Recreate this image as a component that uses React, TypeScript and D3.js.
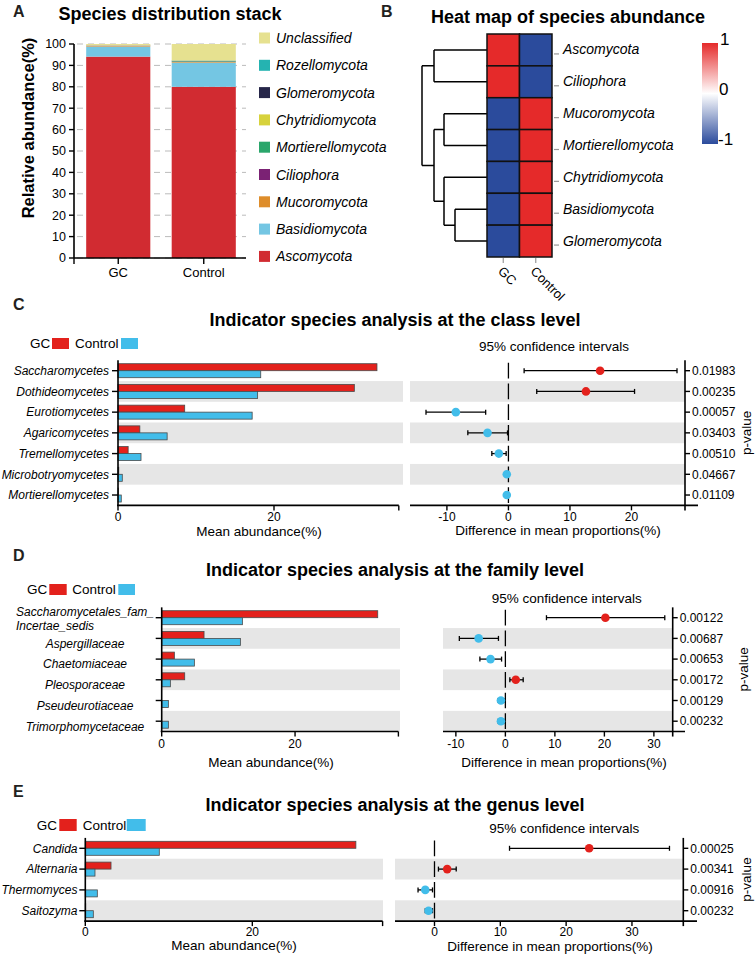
import * as d3 from 'd3'
import React from 'react'

const FONT = 'Liberation Sans, Arial, Helvetica, sans-serif'
const RED = '#e3211c'
const BLUE = '#42bdea'

// ---- panel A: stacked composition ----
const groups = ['GC', 'Control']
const phyla = ['Ascomycota', 'Basidiomycota', 'Mucoromycota', 'Ciliophora', 'Mortierellomycota', 'Chytridiomycota', 'Glomeromycota', 'Rozellomycota', 'Unclassified']
const phylaColors = ['#d12b31', '#74c6e3', '#de8d2b', '#7b2274', '#2aa66b', '#d7d23c', '#262649', '#25b3b1', '#e6e190']
const gcStack = [94.1, 4.7, 0.25, 0.15, 0.05, 0.03, 0.02, 0.02, 0.68]
const controlStack = [80.0, 11.3, 0.3, 0.2, 0.35, 0.1, 0.05, 0.05, 7.65]
const stackTicks = d3.range(0, 101, 10)

// ---- panel B: heatmap ----
const heatRows = ['Ascomycota', 'Ciliophora', 'Mucoromycota', 'Mortierellomycota', 'Chytridiomycota', 'Basidiomycota', 'Glomeromycota']
const heatGC = [1, 1, -1, -1, -1, -1, -1]
const heatControl = [-1, -1, 1, 1, 1, 1, 1]
// merge heights of the row dendrogram
const dendro = {
  h: 65,
  children: [
    { h: 53, children: [{ name: 'Ascomycota' }, { name: 'Ciliophora' }] },
    {
      h: 53,
      children: [
        { h: 43, children: [{ name: 'Mucoromycota' }, { name: 'Mortierellomycota' }] },
        { h: 43, children: [{ name: 'Chytridiomycota' }, { h: 32, children: [{ name: 'Basidiomycota' }, { name: 'Glomeromycota' }] }] },
      ],
    },
  ],
}

// ---- panel C: class level ----
const classNames = ['Saccharomycetes', 'Dothideomycetes', 'Eurotiomycetes', 'Agaricomycetes', 'Tremellomycetes', 'Microbotryomycetes', 'Mortierellomycetes']
const classGC = [33.2, 30.3, 8.55, 2.8, 1.3, 0.1, 0.05]
const classControl = [18.3, 17.9, 17.2, 6.3, 2.95, 0.55, 0.42]
const classDiff = [14.9, 12.6, -8.55, -3.4, -1.56, -0.27, -0.27]
const classLow = [2.55, 4.6, -13.4, -6.6, -2.7, -0.5, -0.45]
const classHigh = [27.4, 20.5, -3.7, -0.15, -0.37, -0.05, -0.1]
const classP = ['0.01983', '0.00235', '0.00057', '0.03403', '0.00510', '0.04667', '0.01109']

// ---- panel D: family level ----
const familyNames = ['Saccharomycetales_fam_Incertae_sedis', 'Aspergillaceae', 'Chaetomiaceae', 'Pleosporaceae', 'Pseudeurotiaceae', 'Trimorphomycetaceae']
const familyGC = [32.4, 6.35, 1.9, 3.45, 0, 0]
const familyControl = [12.1, 11.8, 4.9, 1.3, 1.0, 1.0]
const familyDiff = [20.2, -5.4, -3.0, 2.1, -0.9, -0.9]
const familyLow = [8.3, -9.3, -5.15, 0.9, -1.45, -1.45]
const familyHigh = [32.2, -1.4, -0.77, 3.6, -0.3, -0.3]
const familyP = ['0.00122', '0.00687', '0.00653', '0.00172', '0.00129', '0.00232']

// ---- panel E: genus level ----
const genusNames = ['Candida', 'Alternaria', 'Thermomyces', 'Saitozyma']
const genusGC = [32.4, 3.08, 0, 0.05]
const genusControl = [8.86, 1.16, 1.44, 0.96]
const genusDiff = [23.5, 1.93, -1.4, -0.9]
const genusLow = [11.4, 0.6, -2.5, -1.4]
const genusHigh = [35.7, 3.3, -0.3, -0.3]
const genusP = ['0.00025', '0.00341', '0.00916', '0.00232']

const StackPanel = () => {
  const y = d3.scaleLinear().domain([0, 100]).range([258, 44])
  const x = d3.scaleBand().domain(groups).range([75.5, 246.5]).paddingInner(0.25).paddingOuter(0.125)
  const rows = groups.map((g, gi) => {
    const o: any = { group: g }
    phyla.forEach((p, i) => (o[p] = (gi === 0 ? gcStack : controlStack)[i]))
    return o
  })
  const series = d3.stack().keys(phyla)(rows)
  return (
    <g>
      <text x={13} y={17} fontSize={16} fontWeight='bold' fill='#231f20'>A</text>
      <text x={170} y={20} fontSize={18} fontWeight='bold' textAnchor='middle'>Species distribution stack</text>
      {stackTicks.map((t) => (
        <line key={'g' + t} x1={77} x2={246} y1={y(t)} y2={y(t)} stroke='#bbb' strokeWidth={1} strokeDasharray='6,5' />
      ))}
      {series.map((s, i) => (
        <g key={s.key} fill={phylaColors[i]}>
          {s.map((d: any) => (
            <rect key={d.data.group} x={x(d.data.group)} width={x.bandwidth()} y={y(d[1])} height={Math.max(0, y(d[0]) - y(d[1]))} />
          ))}
        </g>
      ))}
      <line x1={74} x2={74} y1={44} y2={258} stroke='#000' strokeWidth={1.6} />
      <line x1={74} x2={246} y1={258} y2={258} stroke='#000' strokeWidth={1.6} />
      <line x1={74} x2={74} y1={258} y2={264} stroke='#000' strokeWidth={1.4} />
      {stackTicks.map((t) => (
        <g key={'t' + t}>
          <line x1={69} x2={74} y1={y(t)} y2={y(t)} stroke='#000' strokeWidth={1.4} />
          <text x={66} y={y(t) + 4.3} fontSize={12.5} textAnchor='end'>{t}</text>
        </g>
      ))}
      {groups.map((g) => (
        <g key={g}>
          <line x1={x(g)! + x.bandwidth() / 2} x2={x(g)! + x.bandwidth() / 2} y1={258} y2={264} stroke='#000' strokeWidth={1.4} />
          <text x={x(g)! + x.bandwidth() / 2} y={277} fontSize={13} textAnchor='middle'>{g}</text>
        </g>
      ))}
      <text transform='translate(34,128) rotate(-90)' fontSize={16.5} fontWeight='bold' textAnchor='middle'>Relative abundance(%)</text>
      {phyla.slice().reverse().map((p, i) => (
        <g key={p} transform={`translate(259,${38 + i * 27.3})`}>
          <rect x={0} y={-5.5} width={11} height={11} fill={phylaColors[phyla.length - 1 - i]} />
          <text x={17} y={5} fontSize={14} fontStyle='italic'>{p}</text>
        </g>
      ))}
    </g>
  )
}

const HeatPanel = () => {
  const x0 = 487
  const cw = 32.5
  const y0 = 34
  const ch = (257 - 34) / heatRows.length
  const color = d3.scaleLinear<string>().domain([-1, 0, 1]).range(['#2b4b9c', '#ffffff', '#e52a2a'])
  const hx = d3.scaleLinear().domain([0, 65]).range([x0, 422])
  const root = d3.hierarchy<any>(dendro)
  const pos = new Map<any, { x: number; y: number }>()
  root.eachAfter((n) => {
    const px = hx(n.data.h ?? 0)
    if (!n.children) {
      const i = heatRows.indexOf(n.data.name)
      pos.set(n, { x: px, y: y0 + (i + 0.5) * ch })
    } else {
      const ys = n.children.map((c) => pos.get(c)!.y)
      pos.set(n, { x: px, y: d3.mean(ys)! })
    }
  })
  const segs: string[] = []
  root.each((n) => {
    if (!n.children) return
    const p = pos.get(n)!
    const ys = n.children.map((c) => pos.get(c)!.y)
    segs.push(`M${p.x},${d3.min(ys)}V${d3.max(ys)}`)
    n.children.forEach((c) => {
      const q = pos.get(c)!
      segs.push(`M${p.x},${q.y}H${q.x}`)
    })
  })
  const cols = [heatGC, heatControl]
  return (
    <g>
      <text x={381} y={17} fontSize={16} fontWeight='bold' fill='#231f20'>B</text>
      <text x={568} y={22.5} fontSize={18} fontWeight='bold' textAnchor='middle'>Heat map of species abundance</text>
      <path d={segs.join('')} fill='none' stroke='#000' strokeWidth={1.5} />
      {cols.map((vals, ci) =>
        vals.map((v, ri) => (
          <rect key={ci + '-' + ri} x={x0 + ci * cw} y={y0 + ri * ch} width={cw} height={ch} fill={color(v)} stroke='#111' strokeWidth={1.5} />
        ))
      )}
      {heatRows.map((r, i) => (
        <g key={r}>
          <line x1={554} x2={559} y1={y0 + (i + 0.5) * ch + 4} y2={y0 + (i + 0.5) * ch + 4} stroke='#999' strokeWidth={1.2} />
          <text x={563} y={y0 + (i + 0.5) * ch + 4.5} fontSize={14} fontStyle='italic'>{r}</text>
        </g>
      ))}
      {groups.map((g, ci) => {
        const cx = x0 + (ci + 0.5) * cw
        return (
          <g key={g}>
            <line x1={cx} x2={cx} y1={258} y2={263} stroke='#999' strokeWidth={1.2} />
            <text transform={`translate(${cx - 6},272) rotate(45)`} fontSize={13}>{g}</text>
          </g>
        )
      })}
      <defs>
        <linearGradient id='hmgrad' x1='0' x2='0' y1='0' y2='1'>
          <stop offset='0%' stopColor={color(1)} />
          <stop offset='50%' stopColor={color(0)} />
          <stop offset='100%' stopColor={color(-1)} />
        </linearGradient>
      </defs>
      <rect x={702} y={43} width={16} height={101} fill='url(#hmgrad)' />
      <text x={720} y={45} fontSize={17}>1</text>
      <text x={719} y={95} fontSize={17}>0</text>
      <text x={718} y={145} fontSize={17}>-1</text>
    </g>
  )
}

interface LevelCfg {
  letter: string
  letterY: number
  title: string
  titleY: number
  legY: number
  legH: number
  gcX: number
  gcRect: [number, number]
  ctrlX: number
  ctrlRect: [number, number]
  names: string[]
  gc: number[]
  ctrl: number[]
  diff: number[]
  low: number[]
  high: number[]
  p: string[]
  y0: number
  step: number
  leftX: number
  leftX1: number
  leftMax: number
  leftTicks: number[]
  leftBandX1: number
  labelX: number
  labelAnchor: 'end' | 'middle'
  labelDy: number
  labelSize: number
  rightX0: number
  rightX1: number
  rightDomain: [number, number]
  rightTicks: number[]
  rightAxisEnd: number
  ciX: number
  ciY: number
  pLabelX: number
  tickLabelDy: number
  leftTitleX: number
  leftTitleDy: number
  rightTitleX: number
  rightTitleDy: number
}

const Level: React.FC<{ cfg: LevelCfg }> = ({ cfg }) => {
  const n = cfg.names.length
  const rowY = (i: number) => cfg.y0 + i * cfg.step
  const top = cfg.y0 - cfg.step / 2
  const bottom = rowY(n - 1) + cfg.step / 2
  const xl = d3.scaleLinear().domain([0, cfg.leftMax]).range([cfg.leftX, cfg.leftX1])
  const xr = d3.scaleLinear().domain(cfg.rightDomain).range([cfg.rightX0, cfg.rightX1])
  const bh = 7
  const barStroke = '#4a4a4a'
  return (
    <g>
      <text x={13} y={cfg.letterY} fontSize={16} fontWeight='bold' fill='#231f20'>{cfg.letter}</text>
      <text x={395} y={cfg.titleY} fontSize={18} fontWeight='bold' textAnchor='middle'>{cfg.title}</text>
      <text x={cfg.gcX} y={cfg.legY + 4.8} fontSize={13.5}>GC</text>
      <rect x={cfg.gcRect[0]} y={cfg.legY - cfg.legH / 2} width={cfg.gcRect[1] - cfg.gcRect[0]} height={cfg.legH} fill={RED} />
      <text x={cfg.ctrlX} y={cfg.legY + 4.8} fontSize={13.5}>Control</text>
      <rect x={cfg.ctrlRect[0]} y={cfg.legY - cfg.legH / 2} width={cfg.ctrlRect[1] - cfg.ctrlRect[0]} height={cfg.legH} fill={BLUE} />

      {/* bands */}
      {cfg.names.map((nm, i) =>
        i % 2 === 1 ? (
          <g key={'b' + i} fill='#e6e6e6'>
            <rect x={cfg.leftX} y={rowY(i) - cfg.step / 2} width={cfg.leftBandX1 - cfg.leftX} height={cfg.step} />
            <rect x={cfg.rightX0} y={rowY(i) - cfg.step / 2} width={cfg.rightX1 - cfg.rightX0} height={cfg.step} />
          </g>
        ) : null
      )}

      {/* left: mean abundance bars */}
      {cfg.names.map((nm, i) => (
        <g key={'bar' + i}>
          {cfg.gc[i] > 0 && <rect x={xl(0)} y={rowY(i) - bh} width={xl(cfg.gc[i]) - xl(0)} height={bh} fill={RED} stroke={barStroke} strokeWidth={0.8} />}
          {cfg.ctrl[i] > 0 && <rect x={xl(0)} y={rowY(i)} width={xl(cfg.ctrl[i]) - xl(0)} height={bh} fill={BLUE} stroke={barStroke} strokeWidth={0.8} />}
        </g>
      ))}
      <line x1={cfg.leftX} x2={cfg.leftX} y1={top} y2={bottom} stroke='#000' strokeWidth={1.6} />
      <line x1={cfg.leftX - 1} x2={cfg.leftX1} y1={bottom} y2={bottom} stroke='#000' strokeWidth={1.6} />
      {cfg.names.map((nm, i) => {
        const parts = nm.includes('_fam_') ? [nm.slice(0, nm.indexOf('_fam_') + 5), nm.slice(nm.indexOf('_fam_') + 5)] : [nm]
        return (
          <g key={'lab' + i}>
            <line x1={cfg.leftX - 6} x2={cfg.leftX} y1={rowY(i)} y2={rowY(i)} stroke='#000' strokeWidth={1.4} />
            {parts.length === 1 ? (
              <text x={cfg.labelX} y={rowY(i) + 4.3 + cfg.labelDy} fontSize={cfg.labelSize} fontStyle='italic' textAnchor={cfg.labelAnchor}>{nm}</text>
            ) : (
              <g fontSize={cfg.labelSize} fontStyle='italic'>
                <text x={cfg.labelX} y={rowY(i) - 2} textAnchor='middle'>{parts[0]}</text>
                <text x={16} y={rowY(i) + 12.5}>{parts[1]}</text>
              </g>
            )}
          </g>
        )
      })}
      {[...cfg.leftTicks, cfg.leftMax].map((t) => (
        <line key={'lt' + t} x1={xl(t)} x2={xl(t)} y1={bottom} y2={bottom + 5} stroke='#000' strokeWidth={1.4} />
      ))}
      {cfg.leftTicks.map((t) => (
        <text key={'ltl' + t} x={xl(t)} y={bottom + cfg.tickLabelDy} fontSize={12} textAnchor='middle'>{t}</text>
      ))}
      <text x={cfg.leftTitleX} y={bottom + cfg.leftTitleDy} fontSize={13.5} textAnchor='middle'>Mean abundance(%)</text>

      {/* right: difference with confidence intervals */}
      <line x1={xr(0)} x2={xr(0)} y1={top + 2.5} y2={bottom} stroke='#000' strokeWidth={1.3} strokeDasharray={`${cfg.step - 5},5`} />
      {cfg.names.map((nm, i) => (
        <g key={'ci' + i}>
          <line x1={xr(cfg.low[i])} x2={xr(cfg.high[i])} y1={rowY(i)} y2={rowY(i)} stroke='#000' strokeWidth={1.3} />
          <line x1={xr(cfg.low[i])} x2={xr(cfg.low[i])} y1={rowY(i) - 2.5} y2={rowY(i) + 2.5} stroke='#000' strokeWidth={1.3} />
          <line x1={xr(cfg.high[i])} x2={xr(cfg.high[i])} y1={rowY(i) - 2.5} y2={rowY(i) + 2.5} stroke='#000' strokeWidth={1.3} />
          <circle cx={xr(cfg.diff[i])} cy={rowY(i)} r={4.3} fill={cfg.diff[i] > 0 ? RED : BLUE} />
        </g>
      ))}
      <line x1={cfg.rightX1} x2={cfg.rightX1} y1={top} y2={bottom + 5} stroke='#000' strokeWidth={1.6} />
      <line x1={cfg.rightX0} x2={cfg.rightAxisEnd} y1={bottom} y2={bottom} stroke='#000' strokeWidth={1.6} />
      {cfg.p.map((p, i) => (
        <g key={'p' + i}>
          <line x1={cfg.rightX1} x2={cfg.rightX1 + 5} y1={rowY(i)} y2={rowY(i)} stroke='#000' strokeWidth={1.4} />
          <text x={cfg.rightX1 + 7} y={rowY(i) + 4.2} fontSize={12}>{p}</text>
        </g>
      ))}
      {cfg.rightTicks.map((t) => (
        <g key={'rt' + t}>
          <line x1={xr(t)} x2={xr(t)} y1={bottom} y2={bottom + 5} stroke='#000' strokeWidth={1.4} />
          <text x={xr(t)} y={bottom + cfg.tickLabelDy} fontSize={12} textAnchor='middle'>{t}</text>
        </g>
      ))}
      <text x={cfg.ciX} y={cfg.ciY} fontSize={13.5} textAnchor='middle'>95% confidence intervals</text>
      <text transform={`translate(${cfg.pLabelX},${(top + bottom) / 2}) rotate(-90)`} fontSize={13.5} textAnchor='middle'>p-value</text>
      <text x={cfg.rightTitleX} y={bottom + cfg.rightTitleDy} fontSize={13.5} textAnchor='middle'>Difference in mean proportions(%)</text>
    </g>
  )
}

const classCfg: LevelCfg = {
  letter: 'C', letterY: 310, title: 'Indicator species analysis at the class level', titleY: 326,
  legY: 343.5, legH: 11, gcX: 30, gcRect: [52, 69], ctrlX: 75, ctrlRect: [121, 138],
  names: classNames, gc: classGC, ctrl: classControl, diff: classDiff, low: classLow, high: classHigh, p: classP,
  y0: 370.7, step: 20.72,
  leftX: 118, leftX1: 398.8, leftMax: 36, leftTicks: [0, 20], leftBandX1: 403,
  labelX: 109, labelAnchor: 'end', labelDy: 0, labelSize: 12,
  rightX0: 410, rightX1: 685, rightDomain: [-16, 28.7], rightTicks: [-10, 0, 10, 20], rightAxisEnd: 698,
  ciX: 554, ciY: 351, pLabelX: 751,
  tickLabelDy: 16, leftTitleX: 259, leftTitleDy: 31, rightTitleX: 558, rightTitleDy: 30,
}

const familyCfg: LevelCfg = {
  letter: 'D', letterY: 561, title: 'Indicator species analysis at the family level', titleY: 576,
  legY: 589.5, legH: 11, gcX: 27, gcRect: [49.3, 66.7], ctrlX: 72.3, ctrlRect: [118.3, 135],
  names: familyNames, gc: familyGC, ctrl: familyControl, diff: familyDiff, low: familyLow, high: familyHigh, p: familyP,
  y0: 617.7, step: 20.7,
  leftX: 161.7, leftX1: 398.4, leftMax: 35.5, leftTicks: [0, 20], leftBandX1: 400,
  labelX: 85, labelAnchor: 'middle', labelDy: 5, labelSize: 12,
  rightX0: 443, rightX1: 672.7, rightDomain: [-12.6, 33.8], rightTicks: [-10, 0, 10, 20, 30], rightAxisEnd: 685,
  ciX: 566.7, ciY: 603, pLabelX: 748,
  tickLabelDy: 16.5, leftTitleX: 271, leftTitleDy: 35.5, rightTitleX: 564, rightTitleDy: 35.5,
}

const genusCfg: LevelCfg = {
  letter: 'E', letterY: 797, title: 'Indicator species analysis at the genus level', titleY: 811,
  legY: 825, legH: 12, gcX: 36.7, gcRect: [59.3, 76.7], ctrlX: 82.7, ctrlRect: [126.7, 145.7],
  names: genusNames, gc: genusGC, ctrl: genusControl, diff: genusDiff, low: genusLow, high: genusHigh, p: genusP,
  y0: 848.3, step: 20.8,
  leftX: 85.3, leftX1: 382.6, leftMax: 35.6, leftTicks: [0, 20], leftBandX1: 383,
  labelX: 77.5, labelAnchor: 'end', labelDy: 0, labelSize: 12,
  rightX0: 395, rightX1: 683.3, rightDomain: [-6, 37.8], rightTicks: [0, 10, 20, 30], rightAxisEnd: 697,
  ciX: 564.3, ciY: 833.3, pLabelX: 751,
  tickLabelDy: 15.3, leftTitleX: 234, leftTitleDy: 28.5, rightTitleX: 550, rightTitleDy: 29.5,
}

const App = () => {
  return (
    <svg width={756} height={958} style={{ position: 'absolute', left: 0, top: 0, background: '#fff' }} fontFamily={FONT}>
      <rect width={756} height={958} fill='#fff' />
      <StackPanel />
      <HeatPanel />
      <Level cfg={classCfg} />
      <Level cfg={familyCfg} />
      <Level cfg={genusCfg} />
    </svg>
  )
}

export default App
